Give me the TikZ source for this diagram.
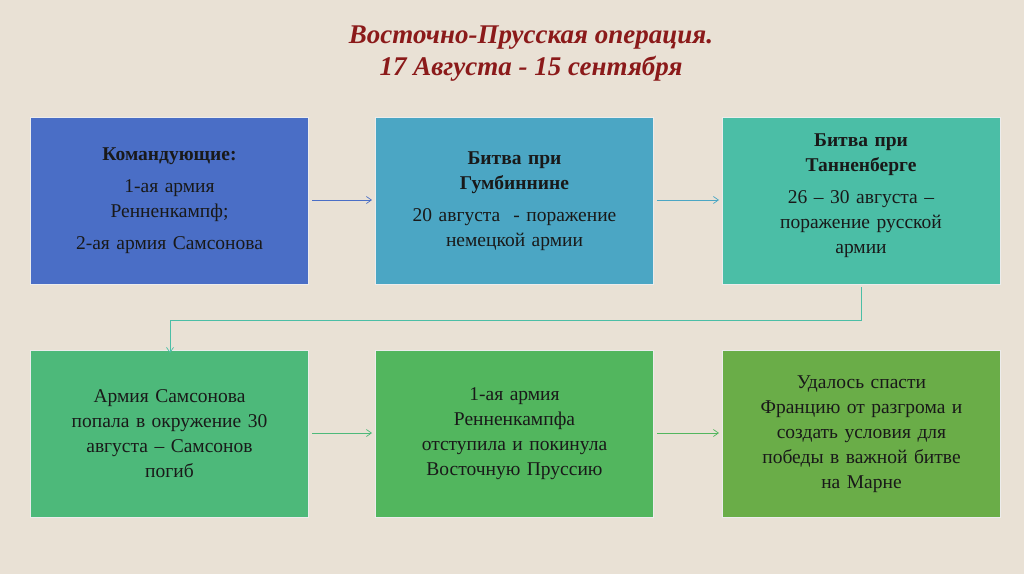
\documentclass[tikz,border=0pt]{standalone}
\usepackage{fontspec}
\setmainfont{Liberation Serif}
\usetikzlibrary{arrows.meta}
\definecolor{bg}{HTML}{E9E1D5}
\definecolor{cA}{HTML}{4A6EC6}
\definecolor{cB}{HTML}{4BA6C4}
\definecolor{cC}{HTML}{4BBEA6}
\definecolor{cD}{HTML}{4DB97A}
\definecolor{cE}{HTML}{52B65E}
\definecolor{cF}{HTML}{6AAD48}
\definecolor{ttl}{HTML}{8B1A1A}
\tikzset{box/.style={draw=white!85!gray,line width=1pt,minimum width=278pt,minimum height=167pt,anchor=north west,align=center,text width=265pt,font=\fontsize{19.5}{25}\selectfont,text=black!90},
conn/.style={line width=0.7pt,-{Straight Barb[length=5pt,width=7pt]}}}
\begin{document}
\begin{tikzpicture}[x=1pt,y=-1pt]
\fill[bg] (0,0) rectangle (1024,574);
\useasboundingbox (0,0) rectangle (1024,574);
\node[text=ttl,font=\fontsize{27}{32}\selectfont\bfseries\itshape,align=center] (t) at (531,54) {Восточно-Прусская операция.\\17 Августа - 15 сентября};
\node[box,fill=cA] (a) at (30,117) {\textbf{Командующие:}\\[7pt]1-ая армия\\Ренненкампф;\\[7pt]2-ая армия Самсонова};
\node[box,fill=cB] (b) at (375,117) {\textbf{Битва при}\\\textbf{Гумбиннине}\\[7pt]20 августа \ - поражение\\немецкой армии};
\node[box,fill=cC,anchor=north west] (c) at (722,117) {};
\node[text width=265pt,align=center,font=\fontsize{19.5}{25}\selectfont,text=black!90,anchor=north] at (861,130) {\textbf{Битва при}\\\textbf{Танненберге}\\[7pt]26 – 30 августа –\\поражение русской\\армии};
\node[box,fill=cD] (d) at (30,350) {Армия Самсонова\\попала в окружение 30\\августа – Самсонов\\погиб};
\node[box,fill=cE] (e) at (375,350) {1-ая армия\\Ренненкампфа\\отступила и покинула\\Восточную Пруссию};
\node[box,fill=cF] (f) at (722,350) {Удалось спасти\\Францию от разгрома и\\создать условия для\\победы в важной битве\\на Марне};
\draw[conn,draw=cA] ([yshift=-83pt]a.north east)++(3,0) -- ([yshift=-83pt,xshift=-3pt]b.north west);
\draw[conn,draw=cB] ([yshift=-83pt]b.north east)++(3,0) -- ([yshift=-83pt,xshift=-3pt]c.north west);
\draw[conn,draw=cC] ([yshift=-2pt]c.south) -- ++(0,33) -| ([xshift=140pt,yshift=-3pt]d.north west);
\draw[conn,draw=cD] ([yshift=-83pt]d.north east)++(3,0) -- ([yshift=-83pt,xshift=-3pt]e.north west);
\draw[conn,draw=cE] ([yshift=-83pt]e.north east)++(3,0) -- ([yshift=-83pt,xshift=-3pt]f.north west);
\end{tikzpicture}
\end{document}
